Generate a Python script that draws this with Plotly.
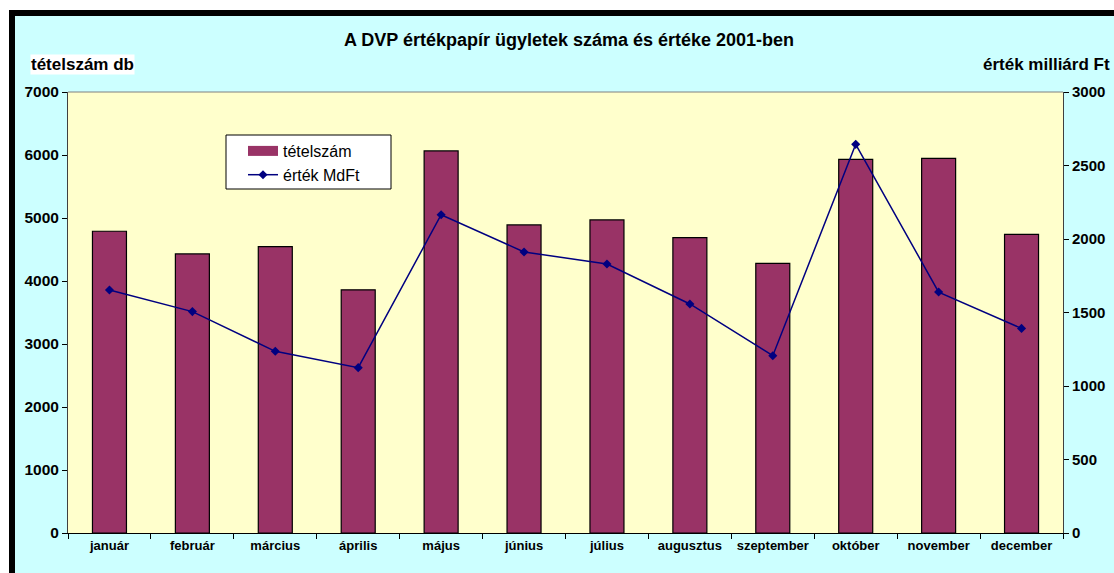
import plotly.graph_objects as go

months = ["január", "február", "március", "április", "május", "június",
          "július", "augusztus", "szeptember", "október", "november", "december"]
tetelszam = [4790, 4430, 4545, 3860, 6065, 4890, 4970, 4690, 4280, 5930, 5945, 4740]
ertek = [1653, 1506, 1236, 1125, 2165, 1912, 1830, 1558, 1206, 2644, 1639, 1392]

left_ticks = [0, 1000, 2000, 3000, 4000, 5000, 6000, 7000]
right_ticks = [0, 500, 1000, 1500, 2000, 2500, 3000]

W, H = 1114, 573
L, R, T, B = 68, 1063, 92, 533  # plot area in pixels
FONT = "Arial, 'Liberation Sans', sans-serif"


def px(x):
    return (x - L) / (R - L)


def py(y):
    return (B - y) / (B - T)


fig = go.Figure()
fig.add_trace(go.Bar(
    x=months, y=tetelszam, name="tételszám", showlegend=False,
    marker=dict(color="#993366", line=dict(color="#000000", width=1.2)),
    yaxis="y",
))
# legend swatch for the bars (wide rectangle like the original)
fig.add_trace(go.Scatter(
    x=[None], y=[None], name="tételszám", mode="lines",
    line=dict(color="#993366", width=10), yaxis="y", showlegend=True,
))
fig.add_trace(go.Scatter(
    x=months, y=ertek, name="érték MdFt", mode="lines+markers",
    line=dict(color="#000080", width=1.5),
    marker=dict(symbol="diamond", size=7, color="#000080"),
    yaxis="y2",
))

shapes = [
    # black frame (top and left)
    dict(type="rect", xref="paper", yref="paper", x0=px(9), x1=px(W + 5), y0=py(10), y1=py(16),
         fillcolor="black", line=dict(width=0), layer="above"),
    dict(type="rect", xref="paper", yref="paper", x0=px(9), x1=px(15), y0=py(10), y1=py(H + 5),
         fillcolor="black", line=dict(width=0), layer="above"),
    dict(type="rect", xref="paper", yref="paper", x0=px(-5), x1=px(W + 5), y0=py(-5), y1=py(10),
         fillcolor="white", line=dict(width=0), layer="above"),
    dict(type="rect", xref="paper", yref="paper", x0=px(-5), x1=px(9), y0=py(-5), y1=py(H + 5),
         fillcolor="white", line=dict(width=0), layer="above"),
    # top border of plot area
    dict(type="line", xref="paper", yref="paper", x0=0, x1=1, y0=1, y1=1,
         line=dict(color="#808080", width=1), layer="above"),
    # legend box
    dict(type="rect", xref="paper", yref="paper", x0=px(226), x1=px(391), y0=py(135), y1=py(189),
         fillcolor="white", line=dict(color="black", width=1), layer="above"),
]

annotations = [
    dict(text="<b>tételszám db</b>", xref="paper", yref="paper", x=px(30), y=py(64),
         xanchor="left", yanchor="middle", showarrow=False, bgcolor="white",
         font=dict(family=FONT, size=17, color="black"), borderpad=0),
    dict(text="<b>érték milliárd Ft</b>", xref="paper", yref="paper", x=px(1112), y=py(64),
         xanchor="right", yanchor="middle", showarrow=False,
         font=dict(family=FONT, size=17, color="black")),
]

fig.update_layout(
    width=W, height=H,
    margin=dict(l=L, r=W - R, t=T, b=H - B, autoexpand=False),
    paper_bgcolor="#CCFFFF",
    plot_bgcolor="#FFFFCC",
    font=dict(family=FONT, color="black"),
    title=dict(text="<b>A DVP értékpapír ügyletek száma és értéke 2001-ben</b>",
               x=569 / W, xanchor="center", xref="container",
               y=1 - 40 / H, yanchor="middle", yref="container",
               font=dict(family=FONT, size=18, color="black")),
    bargap=0.59,
    showlegend=True,
    legend=dict(x=px(243), y=py(134), xanchor="left", yanchor="top",
                bgcolor="rgba(0,0,0,0)", borderwidth=0,
                font=dict(family=FONT, size=16, color="black"),
                itemwidth=30, tracegroupgap=0, traceorder="normal"),
    xaxis=dict(
        type="category", range=[-0.5, len(months) - 0.5], autorange=False,
        showgrid=False, showline=True, linecolor="black", linewidth=1,
        ticks="outside", tickson="boundaries", ticklen=5, tickcolor="black",
        tickangle=0, automargin=False,
        tickfont=dict(family=FONT, size=13, color="black", weight="bold"),
        zeroline=False, fixedrange=True,
    ),
    yaxis=dict(
        range=[0, 7000], tickvals=left_ticks, ticktext=[str(v) for v in left_ticks],
        showgrid=False, showline=True, linecolor="#404040", linewidth=1,
        ticks="outside", ticklen=5, tickcolor="black", automargin=False,
        tickfont=dict(family=FONT, size=15.5, color="black", weight="bold"),
        zeroline=False,
    ),
    yaxis2=dict(
        range=[0, 3000], tickvals=right_ticks, ticktext=[str(v) for v in right_ticks],
        overlaying="y", side="right",
        showgrid=False, showline=True, linecolor="#404040", linewidth=1,
        ticks="outside", ticklen=5, tickcolor="black", automargin=False,
        tickfont=dict(family=FONT, size=15, color="black", weight="bold"),
        zeroline=False,
    ),
    shapes=shapes,
    annotations=annotations,
)

fig.write_html(
    "out.html",
    config={"displayModeBar": False},
    post_script="document.body.style.margin='0';document.body.style.padding='0';"
                "document.documentElement.style.overflow='hidden';",
)
